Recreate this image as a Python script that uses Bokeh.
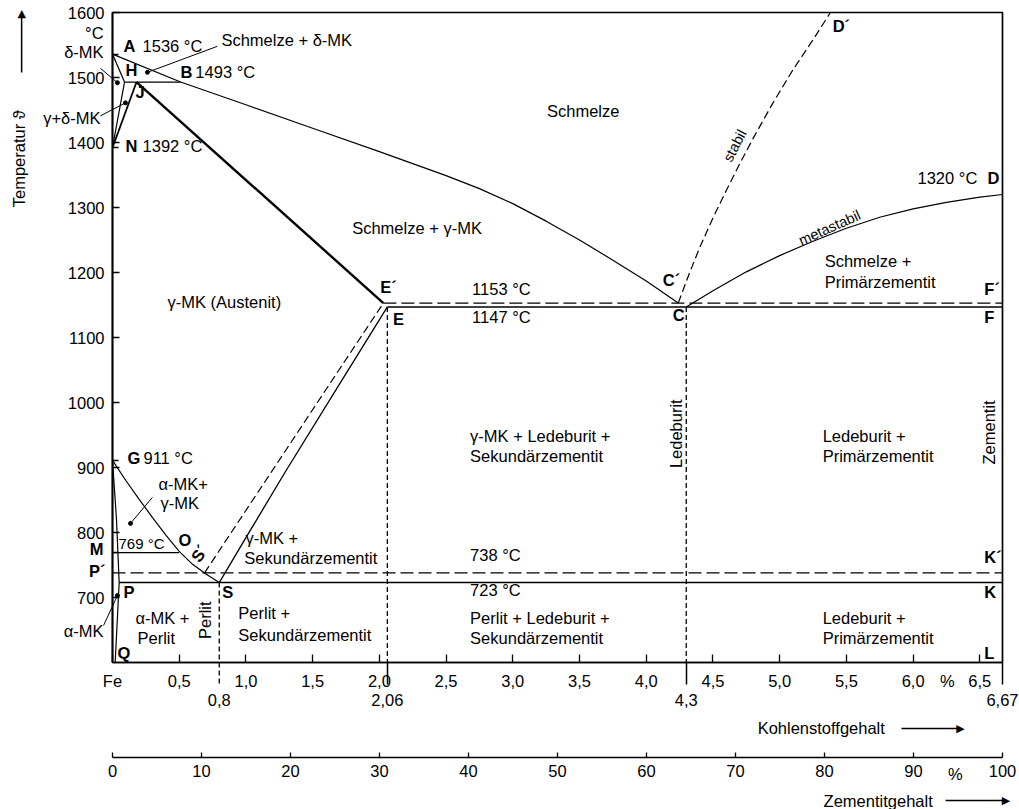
import math
from bokeh.plotting import figure
from bokeh.models import Range1d, LinearAxis, FixedTicker
from bokeh.layouts import column
from bokeh.embed import file_html
from bokeh.resources import INLINE
from bokeh.core.properties import value

FONT = "Liberation Sans"
FS = "16.5px"

# ---------------- data ----------------
carbon_ticks = [0.0, 0.5, 1.0, 1.5, 2.0, 2.5, 3.0, 3.5, 4.0, 4.5, 5.0, 5.5, 6.0, 6.5]
carbon_tick_labels = ["Fe", "0,5", "1,0", "1,5", "2,0", "2,5", "3,0", "3,5", "4,0", "4,5", "5,0", "5,5", "6,0", "6,5"]
carbon_special = [0.8, 2.06, 4.3, 6.67]
carbon_special_labels = ["0,8", "2,06", "4,3", "6,67"]
temp_ticks = [700, 800, 900, 1000, 1100, 1200, 1300, 1400, 1500, 1600]
temp_marks = [1536, 1392, 911, 769]
zem_ticks = [0, 10, 20, 30, 40, 50, 60, 70, 80, 90, 100]
zem_tick_labels = ["0", "10", "20", "30", "40", "50", "60", "70", "80", "90", "100"]

# liquidus A-B-C'
liq_c = [0.0, 0.51, 1.0, 1.5, 2.0, 2.5, 2.75, 3.0, 3.25, 3.5, 3.75, 4.0, 4.24]
liq_t = [1536, 1493, 1458, 1422, 1386, 1349, 1329, 1306, 1279, 1250, 1219, 1187, 1153]
# stable liquidus C'-D'
stab_c = [4.24, 4.32, 4.40, 4.5, 4.6, 4.7, 4.8, 4.95, 5.1, 5.25, 5.38]
stab_t = [1153, 1197, 1238, 1284, 1326, 1367, 1406, 1461, 1512, 1558, 1600]
# metastable liquidus C-D
meta_c = [4.3, 4.5, 4.75, 5.0, 5.25, 5.5, 5.75, 6.0, 6.25, 6.5, 6.67]
meta_t = [1147, 1172, 1201, 1226, 1248, 1268, 1285, 1298, 1308, 1316, 1320]
# G-O-S
gos_c = [0.0, 0.1, 0.2, 0.3, 0.4, 0.5, 0.6, 0.7, 0.8]
gos_t = [911, 880, 851, 823, 796, 771, 751, 736, 723]
# E-S (metastable) and E'-S' (stable)
es_c = [0.8, 1.0, 1.3, 1.7, 2.06]
es_t = [723, 792, 895, 1028, 1147]
es_stab_c = [0.69, 1.2, 1.6, 2.03]
es_stab_t = [738, 896, 1020, 1153]
# G-P-Q
gpq_c = [0.0, 0.03, 0.05, 0.02]
gpq_t = [911, 820, 723, 600]
# delta region A-H-N, J-N, H-B, solidus J-E'
ahn_c = [0.0, 0.09, 0.0]
ahn_t = [1536, 1493, 1392]
jn_c = [0.18, 0.0]
jn_t = [1493, 1392]
hb_c = [0.09, 0.51]
hb_t = [1493, 1493]
je_c = [0.18, 2.03]
je_t = [1493, 1153]
# isotherms
iso_solid_c0 = [2.06, 0.05, 0.0]
iso_solid_c1 = [6.67, 6.67, 0.5]
iso_solid_t = [1147, 723, 769]
iso_dash_c0 = [2.03, 0.0]
iso_dash_c1 = [6.67, 6.67]
iso_dash_t = [1153, 738]
# vertical composition lines S, E, C
vert_c = [0.8, 2.06, 4.3]
vert_t = [723, 1147, 1147]
T_MIN = 600
# leader lines to small dots
lead_c0 = [0.786, -0.090, -0.090, 0.299, -0.067]
lead_t0 = [1548, 1514, 1441, 854, 657]
dot_c = [0.262, 0.037, 0.097, 0.135, 0.037]
dot_t = [1508, 1492, 1461, 814, 703]

# ---------------- text (layout) ----------------
reg_text = ["Schmelze + δ-MK", "Schmelze", "Schmelze + γ-MK", "γ-MK (Austenit)",
            "Schmelze +", "Primärzementit",
            "γ-MK + Ledeburit +", "Sekundärzementit", "Ledeburit +", "Primärzementit",
            "α-MK+", "γ-MK", "γ-MK +", "Sekundärzementit",
            "α-MK +", "Perlit", "Perlit +", "Sekundärzementit",
            "Perlit + Ledeburit +", "Sekundärzementit", "Ledeburit +", "Primärzementit",
            "1536 °C", "1493 °C", "1392 °C", "1153 °C", "1147 °C", "1320 °C", "911 °C",
            "738 °C", "723 °C"]
reg_x = [0.816, 3.256, 1.796, 0.412,
         5.337, 5.337,
         2.680, 2.680, 5.322, 5.322,
         0.344, 0.359, 0.996, 0.988,
         0.172, 0.187, 0.943, 0.943,
         2.680, 2.680, 5.322, 5.322,
         0.225, 0.621, 0.225, 2.695, 2.695, 6.033, 0.232,
         2.680, 2.680]
reg_y = [1558, 1449, 1269, 1154,
         1218, 1185,
         949, 918, 949, 918,
         875, 845, 792, 761,
         669, 638, 676, 642,
         668, 637, 668, 637,
         1549, 1508, 1394, 1175, 1131, 1346, 915,
         765, 711]

pt_text = ["A", "H", "B", "J", "N", "E´", "E", "C´", "C", "D´", "D", "F´", "F",
           "G", "O", "S", "P", "Q", "K´", "K", "L"]
pt_x = [0.082, 0.097, 0.509, 0.172, 0.097, 2.006, 2.103, 4.124, 4.199, 5.397, 6.557, 6.534, 6.534,
        0.112, 0.494, 0.823, 0.082, 0.037, 6.534, 6.534, 6.534]
pt_y = [1549, 1511, 1508, 1477, 1394, 1177, 1129, 1188, 1134, 1580, 1346, 1175, 1131,
        915, 788, 708, 708, 614, 763, 709, 614]

rot_text = ["Ledeburit", "Zementit", "Perlit"]
rot_x = [4.222, 6.572, 0.696]
rot_y = [952, 954, 665]

# texts outside the plotting frame
out_text = ["δ-MK", "γ+δ-MK", "α-MK", "°C"]
out_x = [-0.067, -0.090, -0.067, -0.067]
out_y = [1538.5, 1437, 649, 1569]
out_bold_text = ["M", "P´"]
out_bold_x = [-0.067, -0.052]
out_bold_y = [774, 741.5]

K = "black"

# ---------------- main figure ----------------
p = figure(width=1019, height=740, x_range=Range1d(0, 6.67), y_range=Range1d(600, 1600),
           min_border_left=112, min_border_right=16, min_border_top=12, min_border_bottom=78,
           output_backend="svg", toolbar_location=None)
p.xgrid.visible = False
p.ygrid.visible = False
p.outline_line_color = K
p.outline_line_width = 1.7
p.background_fill_color = "white"
p.border_fill_color = "white"

p.line(liq_c, liq_t, line_color=K, line_width=1.2)
p.line(stab_c, stab_t, line_color=K, line_width=1.2, line_dash="8 4")
p.line(meta_c, meta_t, line_color=K, line_width=1.2)
p.line(gos_c, gos_t, line_color=K, line_width=1.2)
p.line(es_c, es_t, line_color=K, line_width=1.3)
p.line(es_stab_c, es_stab_t, line_color=K, line_width=1.2, line_dash="8 4")
p.line(gpq_c, gpq_t, line_color=K, line_width=1.2)
p.line(ahn_c, ahn_t, line_color=K, line_width=1.2)
p.line(jn_c, jn_t, line_color=K, line_width=1.8)
p.line(hb_c, hb_t, line_color=K, line_width=1.3)
p.line(je_c, je_t, line_color=K, line_width=2.4)
p.segment(x0=iso_solid_c0, y0=iso_solid_t, x1=iso_solid_c1, y1=iso_solid_t, line_color=K, line_width=1.4)
p.segment(x0=iso_dash_c0, y0=iso_dash_t, x1=iso_dash_c1, y1=iso_dash_t, line_color=K, line_width=1.3,
          line_dash="13 5")
p.segment(x0=vert_c, y0=vert_t, x1=vert_c, y1=[T_MIN] * len(vert_c), line_color=K, line_width=1.3,
          line_dash="5 3")
# dashed continuation of the 0,8 line below the axis
p.segment(x0=[vert_c[0]], y0=[T_MIN], x1=[vert_c[0]], y1=[T_MIN - 34], line_color=K, line_width=1.3,
          line_dash="5 3", level="annotation")
p.segment(x0=lead_c0, y0=lead_t0, x1=dot_c, y1=dot_t, line_color=K, line_width=1.0, level="annotation")
p.scatter(dot_c, dot_t, size=4, color=K, level="annotation")

p.text(x=reg_x, y=reg_y, text=reg_text, text_font=value(FONT), text_font_size=value(FS),
       text_align="left", text_baseline="middle", text_color=K)
p.text(x=pt_x, y=pt_y, text=pt_text, text_font=value(FONT), text_font_size=value(FS),
       text_font_style="bold", text_align="left", text_baseline="middle", text_color=K)
p.text(x=rot_x, y=rot_y, text=rot_text, angle=math.pi / 2, text_font=value(FONT), text_font_size=value(FS),
       text_align="center", text_baseline="middle", text_color=K)
p.text(x=[4.663], y=[1395], text=["stabil"], angle=[math.radians(63)], text_font=value(FONT),
       text_font_size=value("14.5px"), text_align="center", text_baseline="middle", text_color=K)
p.text(x=[5.374], y=[1269], text=["metastabil"], angle=[math.radians(24)], text_font=value(FONT),
       text_font_size=value("14.5px"), text_align="center", text_baseline="middle", text_color=K)
p.text(x=[0.651], y=[768], text=["S´"], angle=[math.radians(56)], text_font=value(FONT),
       text_font_size=value(FS), text_font_style="bold", text_align="center", text_baseline="middle")
p.text(x=[0.045], y=[783], text=["769 °C"], text_font=value(FONT), text_font_size=value("15px"),
       text_align="left", text_baseline="middle", text_color=K)

# texts outside the frame (annotation level: not clipped)
p.text(x=out_x, y=out_y, text=out_text, text_font=value(FONT), text_font_size=value(FS),
       text_align="right", text_baseline="middle", text_color=K, level="annotation")
p.text(x=out_bold_x, y=out_bold_y, text=out_bold_text, text_font=value(FONT), text_font_size=value(FS),
       text_font_style="bold", text_align="right", text_baseline="middle", text_color=K, level="annotation")
p.text(x=[-0.704], y=[1375], text=["Temperatur ϑ"], angle=[math.pi / 2], text_font=value(FONT),
       text_font_size=value(FS), text_align="center", text_baseline="middle", text_color=K,
       level="annotation")
p.text(x=[6.257], y=[572], text=["%"], text_font=value(FONT), text_font_size=value(FS),
       text_align="center", text_baseline="middle", text_color=K, level="annotation")
p.text(x=[4.835], y=[498.5], text=["Kohlenstoffgehalt"], text_font=value(FONT), text_font_size=value(FS),
       text_align="left", text_baseline="middle", text_color=K, level="annotation")
# arrows (shaft + head)
p.segment(x0=[-0.681, 5.913], y0=[1507.7, 498.5], x1=[-0.681, 6.34], y1=[1596, 498.5],
          line_color=K, line_width=1.5, level="annotation")
p.text(x=[-0.681], y=[1598], text=["▲"], text_font=value("DejaVu Sans"), text_font_size=value("11px"),
       text_align="center", text_baseline="middle", text_color=K, level="annotation")
p.text(x=[6.355], y=[498.5], text=["▶"], text_font=value("DejaVu Sans"), text_font_size=value("11px"),
       text_align="center", text_baseline="middle", text_color=K, level="annotation")

# axes
xa = p.xaxis[0]
xa.ticker = FixedTicker(ticks=carbon_ticks, minor_ticks=carbon_special[1:])
xa.major_label_overrides = {t: l for t, l in zip(carbon_ticks, carbon_tick_labels)}
xa.major_tick_in = 8
xa.major_tick_out = 0
xa.minor_tick_in = 0
xa.minor_tick_out = 22
xa.minor_tick_line_width = 1.5
xa.major_tick_line_width = 1.3
xa.axis_line_width = 1.7
xa.major_label_standoff = -13
xa.major_label_text_font = FONT
xa.major_label_text_font_size = FS
xa.major_label_text_color = K

ax2 = LinearAxis(ticker=FixedTicker(ticks=carbon_special),
                 major_label_overrides={t: l for t, l in zip(carbon_special, carbon_special_labels)},
                 axis_line_color=None, major_tick_line_color=None, minor_tick_line_color=None,
                 major_label_standoff=-5, major_label_text_font=FONT, major_label_text_font_size=FS,
                 major_label_text_color=K)
p.add_layout(ax2, "below")

ya = p.yaxis[0]
ya.ticker = FixedTicker(ticks=temp_ticks, minor_ticks=temp_marks)
ya.major_tick_in = 7
ya.major_tick_out = 0
ya.minor_tick_in = 6
ya.minor_tick_out = 0
ya.minor_tick_line_width = 1.3
ya.major_tick_line_width = 1.3
ya.axis_line_width = 1.7
ya.major_label_standoff = 8
ya.major_label_text_font = FONT
ya.major_label_text_font_size = FS
ya.major_label_text_color = K

# ---------------- Zementit axis ----------------
p2 = figure(width=1019, height=69, x_range=Range1d(0, 100), y_range=Range1d(0, 15),
            min_border_left=110, min_border_right=17, min_border_top=2, min_border_bottom=52,
            output_backend="svg", toolbar_location=None)
p2.outline_line_color = None
p2.xgrid.visible = False
p2.ygrid.visible = False
p2.yaxis.visible = False
za = p2.xaxis[0]
za.ticker = FixedTicker(ticks=zem_ticks)
za.major_label_overrides = {t: l for t, l in zip(zem_ticks, zem_tick_labels)}
za.major_tick_in = 5
za.major_tick_out = 0
za.major_tick_line_width = 1.3
za.axis_line_width = 1.7
za.major_label_standoff = 7
za.major_label_text_font = FONT
za.major_label_text_font_size = FS
za.major_label_text_color = K
p2.text(x=[94.7], y=[-16], text=["%"], text_font=value(FONT), text_font_size=value(FS),
        text_align="center", text_baseline="middle", text_color=K, level="annotation")
p2.text(x=[79.9], y=[-43], text=["Zementitgehalt"], text_font=value(FONT), text_font_size=value(FS),
        text_align="left", text_baseline="middle", text_color=K, level="annotation")
p2.segment(x0=[93.6], y0=[-43], x1=[100.0], y1=[-43], line_color=K, line_width=1.5, level="annotation")
p2.text(x=[100.4], y=[-43], text=["▶"], text_font=value("DejaVu Sans"), text_font_size=value("11px"),
        text_align="center", text_baseline="middle", text_color=K, level="annotation")

layout = column(p, p2)
open("out.html", "w").write(file_html(layout, INLINE))
